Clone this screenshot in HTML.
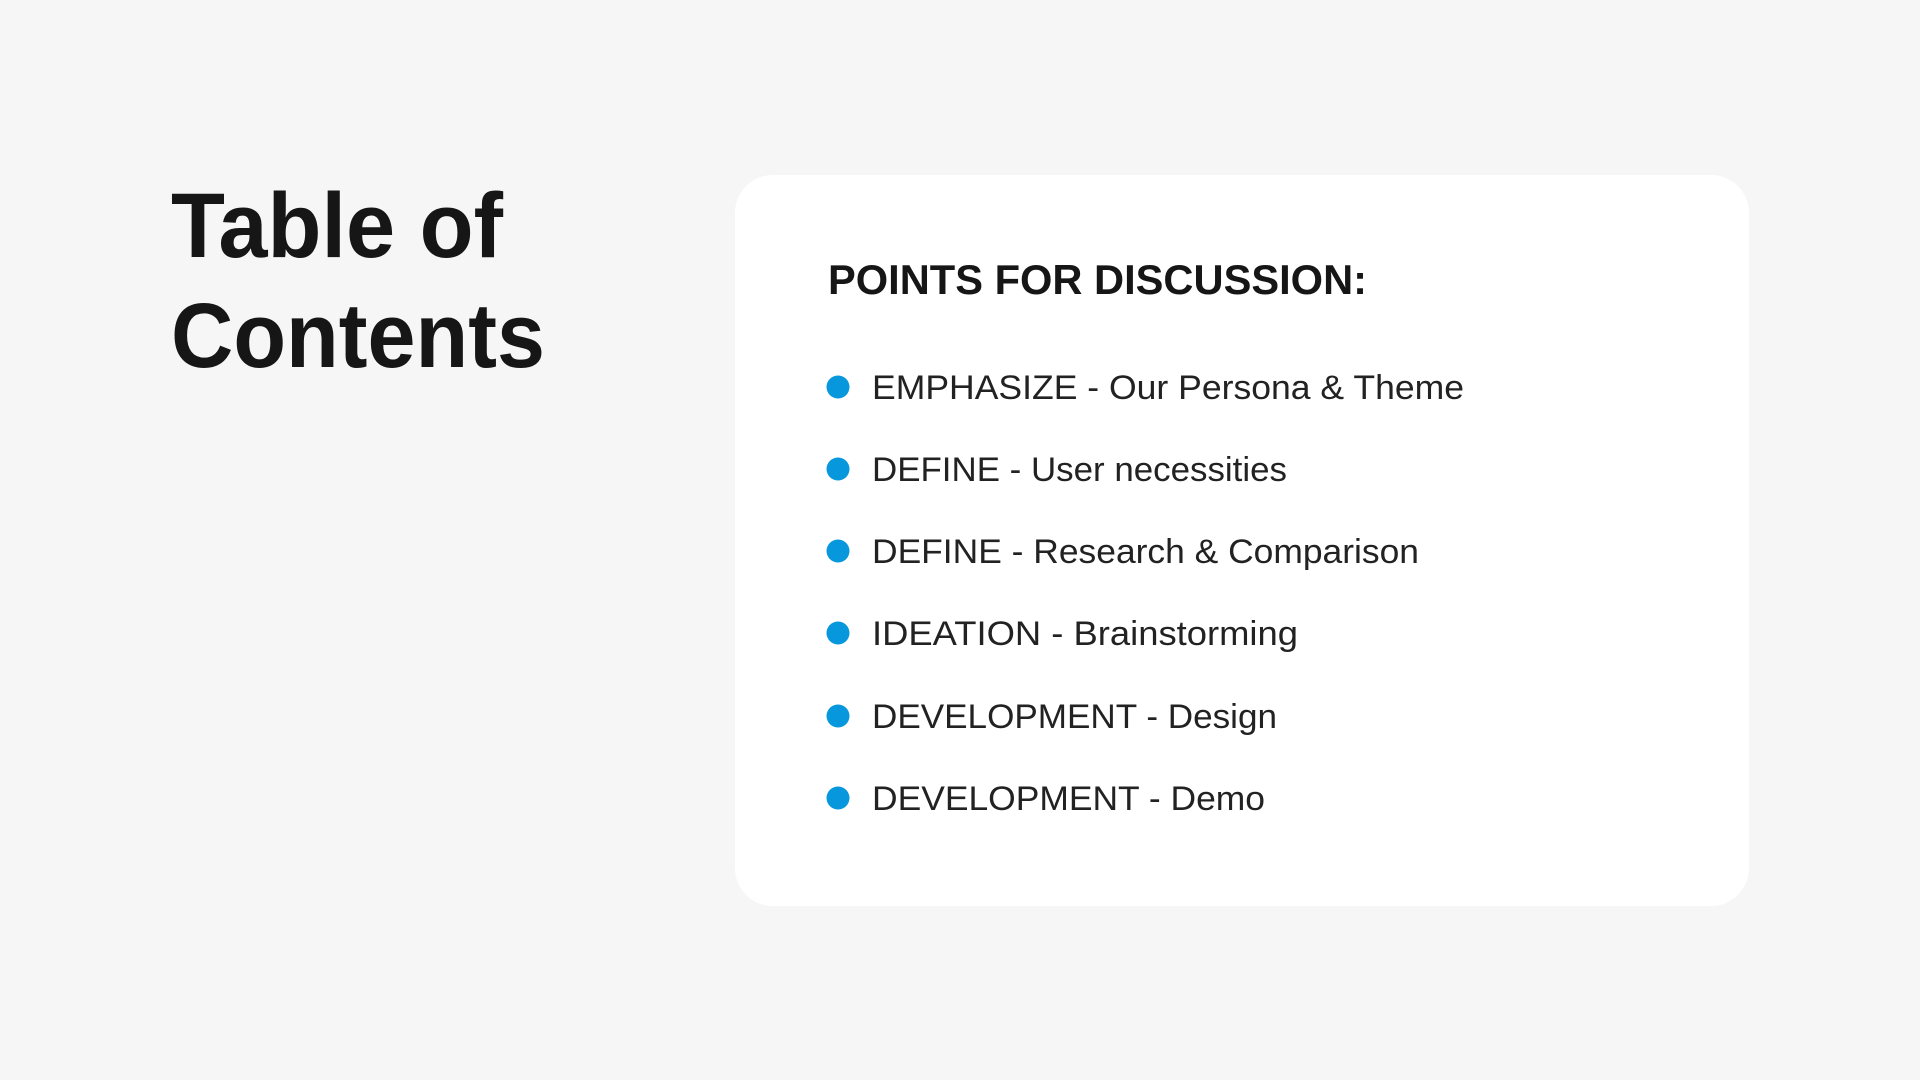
<!DOCTYPE html>
<html><head><meta charset="utf-8"><style>
html,body{margin:0;padding:0;background:#f6f6f6;}
svg{display:block;}
text{font-family:"Liberation Sans",sans-serif;}
</style></head><body>
<svg width="1920" height="1080" viewBox="0 0 1920 1080">
<rect x="0" y="0" width="1920" height="1080" fill="#f6f6f6"/>
<g fill="#161616" font-size="92" font-weight="bold">
<text x="171" y="257" textLength="332" lengthAdjust="spacingAndGlyphs">Table of</text>
<text x="171" y="367" textLength="374" lengthAdjust="spacingAndGlyphs">Contents</text>
</g>
<rect x="735" y="175" width="1014" height="731" rx="38" fill="#ffffff"/>
<text x="828" y="294" font-size="42" font-weight="bold" fill="#161616" textLength="539" lengthAdjust="spacingAndGlyphs">POINTS FOR DISCUSSION:</text>
<g id="list"></g>
</svg>
<script>
const items=["EMPHASIZE - Our Persona & Theme","DEFINE - User necessities","DEFINE - Research & Comparison","IDEATION - Brainstorming","DEVELOPMENT - Design","DEVELOPMENT - Demo"];
const widths=[592,415,547,426,405,393];
const centers=[387,469,551,633,716,798];
const g=document.getElementById('list');
const ns="http://www.w3.org/2000/svg";
items.forEach((t,i)=>{
const c=document.createElementNS(ns,'circle');


c.setAttribute('cx',838);c.setAttribute('cy',centers[i]);c.setAttribute('r',11.5);c.setAttribute('fill','#0797dd');
g.appendChild(c);
const tx=document.createElementNS(ns,'text');


tx.setAttribute('x',872);tx.setAttribute('y',centers[i]+12);
tx.setAttribute('font-size',34);tx.setAttribute('fill','#222');
tx.setAttribute('textLength',widths[i]);tx.setAttribute('lengthAdjust','spacingAndGlyphs');
tx.textContent=t;
g.appendChild(tx);
});
</script>
</body></html>
